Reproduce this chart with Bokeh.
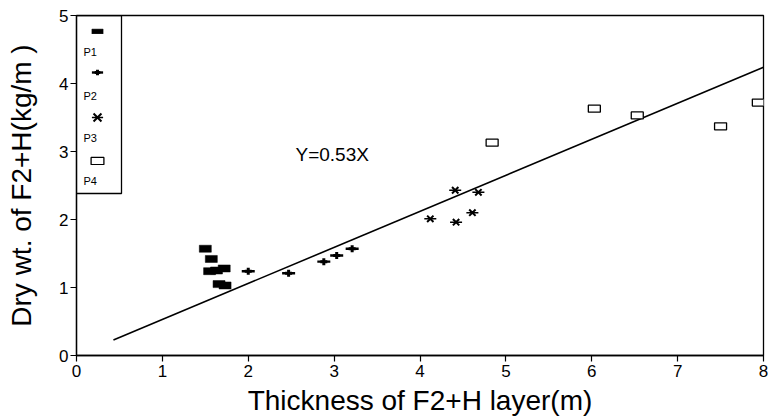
from bokeh.plotting import figure
from bokeh.models import (Range1d, FixedTicker, Legend, LegendItem, BoxAnnotation,
                          Label)
from bokeh.embed import file_html
from bokeh.resources import INLINE

# ---- data ----
p1_x = [1.50, 1.57, 1.55, 1.63, 1.72, 1.66, 1.73]
p1_y = [1.57, 1.42, 1.24, 1.25, 1.28, 1.05, 1.03]
p2_x = [2.00, 2.47, 2.88, 3.03, 3.21]
p2_y = [1.24, 1.21, 1.38, 1.47, 1.57]
p3_x = [4.41, 4.68, 4.12, 4.42, 4.61]
p3_y = [2.43, 2.40, 2.01, 1.96, 2.10]
p4_x = [4.84, 6.03, 6.53, 7.50, 7.94]
p4_y = [3.13, 3.63, 3.53, 3.37, 3.72]
fit_slope = 0.53
fit_x = [0.43, 8.0]
fit_label = "Y=0.53X"
series_names = ["P1", "P2", "P3", "P4"]
x_ticks = [0, 1, 2, 3, 4, 5, 6, 7, 8]
y_ticks = [0, 1, 2, 3, 4, 5]

fit_y = [fit_slope * v for v in fit_x]

FONT = "'Liberation Sans', Arial, Helvetica, sans-serif"

p = figure(frame_width=687, frame_height=340, output_backend="svg",
           toolbar_location=None, x_range=Range1d(0, 8), y_range=Range1d(0, 5),
           min_border_left=76, min_border_top=15, min_border_right=5,
           min_border_bottom=62)
p.background_fill_color = "white"
p.border_fill_color = "white"
p.outline_line_color = "black"
p.outline_line_width = 1.3
p.xgrid.visible = False
p.ygrid.visible = False

for ax, ticks in ((p.xaxis[0], x_ticks), (p.yaxis[0], y_ticks)):
    ax.ticker = FixedTicker(ticks=ticks, minor_ticks=[])
    ax.axis_line_color = "black"
    ax.axis_line_width = 1.3
    ax.major_tick_line_color = "black"
    ax.major_tick_line_width = 1.2
    ax.major_tick_in = 0
    ax.major_tick_out = 6
    ax.minor_tick_line_color = None
    ax.major_label_text_font = FONT
    ax.major_label_text_font_size = "17px"
    ax.major_label_text_color = "black"
    ax.axis_label_text_font = FONT
    ax.axis_label_text_font_style = "normal"
    ax.axis_label_text_color = "black"
    ax.axis_label_text_font_size = "28px"

p.xaxis[0].axis_label = "Thickness of F2+H layer(m)"
p.xaxis[0].major_label_standoff = 3
p.xaxis[0].axis_label_standoff = 5
p.yaxis[0].axis_label = "Dry wt. of F2+H(kg/m )"
p.yaxis[0].major_label_standoff = 2
p.yaxis[0].axis_label_standoff = 19

# regression line
p.line(fit_x, fit_y, line_color="black", line_width=1.6)

# series
r1 = p.rect(x=p1_x, y=p1_y, width=12, height=7, width_units="screen",
            height_units="screen", fill_color="black", line_color="black", line_width=0.5)
r2a = p.scatter(x=p2_x, y=p2_y, marker="dash", size=13, line_color="black",
                line_width=2.4)
r2b = p.scatter(x=p2_x, y=p2_y, marker="cross", size=7,
                line_color="black", line_width=3)
r3a = p.scatter(x=p3_x, y=p3_y, marker="x", size=9, line_color="black", line_width=2)
r3b = p.scatter(x=p3_x, y=p3_y, marker="dash", size=12, line_color="black",
                line_width=1.5)
r4 = p.rect(x=p4_x, y=p4_y, width=12, height=7, width_units="screen",
            height_units="screen", fill_color="white", line_color="black", line_width=1.3)

p.add_layout(Label(x=2.55, y=2.95, text=fit_label, text_font=FONT,
                   text_font_size="19px", text_baseline="middle", text_color="black"))

# legend (box + keys + labels), key placed above its label
p.add_layout(BoxAnnotation(left=-1, right=45, top=340, bottom=162,
                           left_units="screen", right_units="screen",
                           top_units="screen", bottom_units="screen",
                           fill_alpha=0, line_color="black", line_alpha=1,
                           line_width=1.3))

# (renderers, glyph width, glyph height, key centre y in frame px from bottom)
key_specs = [
    ([r1], 14, 6, 324),
    ([r2a], 28, 28, 283),
    ([r2b], 14, 14, 283),
    ([r3a, r3b], 28, 28, 238),
    ([r4], 16, 9, 195),
]
for rends, gw, gh, cy in key_specs:
    lg = Legend(items=[LegendItem(label=" ", renderers=rends)],
                location=(21 - gw / 2, cy - gh / 2),
                glyph_width=gw, glyph_height=gh, label_height=gh, label_width=1,
                label_standoff=0, padding=0, margin=0, spacing=0,
                border_line_alpha=0, background_fill_alpha=0,
                label_text_font_size="1px", label_text_alpha=0)
    p.add_layout(lg)

label_y = [304, 260, 218, 175]
for name, ly in zip(series_names, label_y):
    p.add_layout(Label(x=7, y=ly, x_units="screen", y_units="screen", text=name,
                       text_font=FONT, text_font_size="11px",
                       text_baseline="middle", text_color="black"))

open("out.html", "w").write(file_html(p, INLINE))
